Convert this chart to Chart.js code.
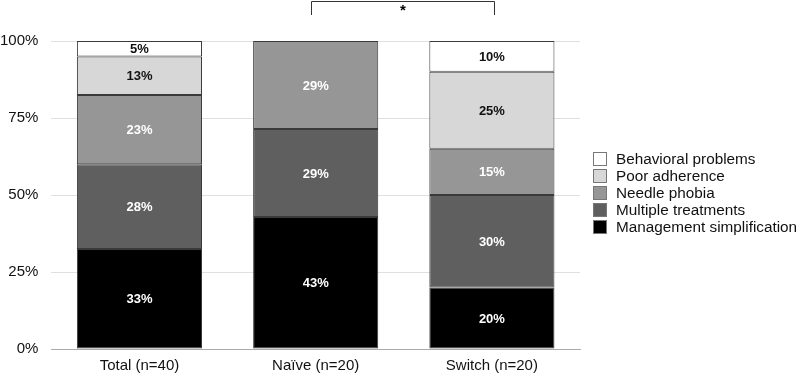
<!DOCTYPE html>
<html>
<head>
<meta charset="utf-8">
<script src="https://cdn.jsdelivr.net/npm/chart.js@4"></script>
<style>
  html, body { margin: 0; padding: 0; background: #fff; }
  #wrap { width: 798px; height: 375px; position: relative; }
  #legend {
    position: absolute; left: 593px; top: 150px;
    font: 15.3px "Liberation Sans", Arial, Helvetica, sans-serif; color: #111;
  }
  #legend .row { height: 17px; display: flex; align-items: center; white-space: nowrap; }
  #legend .box { width: 12px; height: 12px; border: 1px solid #777; margin-right: 9px; }
</style>
</head>
<body>
<div id="wrap"><canvas id="chart"></canvas><div id="legend"></div></div>
<script>
const categories = ['Total (n=40)', 'Naïve (n=20)', 'Switch (n=20)'];
const managementSimplification = [32.5, 42.86, 20];
const multipleTreatments = [27.5, 28.57, 30];
const needlePhobia = [22.5, 28.57, 15];
const poorAdherence = [12.5, 0, 25];
const behavioralProblems = [5, 0, 10];
const yTicks = [0, 25, 50, 75, 100];

const FONT = '"Liberation Sans", Arial, Helvetica, sans-serif';

// value labels inside each segment
const segmentLabels = {
    id: 'segmentLabels',
    afterDatasetsDraw(chart) {
        const ctx = chart.ctx;
        ctx.save();
        ctx.font = 'bold 13px ' + FONT;
        ctx.textAlign = 'center';
        ctx.textBaseline = 'middle';
        chart.data.datasets.forEach((ds, i) => {
            const meta = chart.getDatasetMeta(i);
            meta.data.forEach((bar, j) => {
                const v = ds.data[j];
                if (!v) return;
                const top = Math.min(bar.y, bar.base);
                const bottom = Math.max(bar.y, bar.base);
                ctx.fillStyle = ds.labelColor;
                ctx.fillText(Math.round(v) + '%', bar.x, (top + bottom) / 2 + 1);
            });
        });
        ctx.restore();
    }
};

// significance bracket between Naive and Switch
const bracket = {
    id: 'bracket',
    afterDraw(chart) {
        const ctx = chart.ctx;
        const x = chart.scales.x;
        const x1 = Math.round(x.getPixelForValue(1)) - 4.5;
        const x2 = Math.round(x.getPixelForValue(2)) + 2.5;
        ctx.save();
        ctx.strokeStyle = '#333';
        ctx.lineWidth = 1;
        ctx.beginPath();
        ctx.moveTo(x1, 15);
        ctx.lineTo(x1, 1.5);
        ctx.lineTo(x2, 1.5);
        ctx.lineTo(x2, 15);
        ctx.stroke();
        ctx.fillStyle = '#000';
        ctx.font = 'bold 15px ' + FONT;
        ctx.textAlign = 'center';
        ctx.textBaseline = 'middle';
        ctx.fillText('*', (x1 + x2) / 2, 11);
        ctx.restore();
    }
};

function series(label, data, color, labelColor) {
    return {
        label, data, labelColor,
        backgroundColor: color,
        borderColor: '#3a3a3a',
        borderWidth: 1,
        borderSkipped: false,
        categoryPercentage: 0.71,
        barPercentage: 1
    };
}

const chart = new Chart(document.getElementById('chart'), {
    type: 'bar',
    data: {
        labels: categories,
        datasets: [
            series('Management simplification', managementSimplification, '#000000', '#ffffff'),
            series('Multiple treatments', multipleTreatments, '#5f5f5f', '#ffffff'),
            series('Needle phobia', needlePhobia, '#969696', '#ffffff'),
            series('Poor adherence', poorAdherence, '#d7d7d7', '#111111'),
            series('Behavioral problems', behavioralProblems, '#ffffff', '#111111')
        ]
    },
    options: {
        responsive: true,
        maintainAspectRatio: false,
        animation: false,
        layout: { padding: { top: 41, left: -13, right: 218, bottom: -8 } },
        plugins: {
            legend: { display: false },
            tooltip: { enabled: false }
        },
        scales: {
            x: {
                stacked: true,
                grid: { display: false, drawTicks: false },
                border: { color: '#aaa' },
                ticks: { color: '#111', font: { family: FONT, size: 15 }, padding: 8 }
            },
            y: {
                stacked: true,
                min: 0,
                max: 100,
                afterBuildTicks(axis) { axis.ticks = yTicks.map(v => ({ value: v })); },
                grid: { color: '#e0e0e0', drawTicks: false },
                border: { display: false },
                ticks: {
                    color: '#111',
                    font: { family: FONT, size: 15 },
                    padding: 13,
                    callback: v => v + '%'
                }
            }
        }
    },
    plugins: [segmentLabels, bracket]
});

// legend, top item = last dataset
const legend = document.getElementById('legend');
chart.data.datasets.slice().reverse().forEach(ds => {
    const row = document.createElement('div');
    row.className = 'row';
    const box = document.createElement('span');
    box.className = 'box';
    box.style.background = ds.backgroundColor;
    const txt = document.createElement('span');
    txt.textContent = ds.label;
    row.appendChild(box);
    row.appendChild(txt);
    legend.appendChild(row);
});
</script>
</body>
</html>
